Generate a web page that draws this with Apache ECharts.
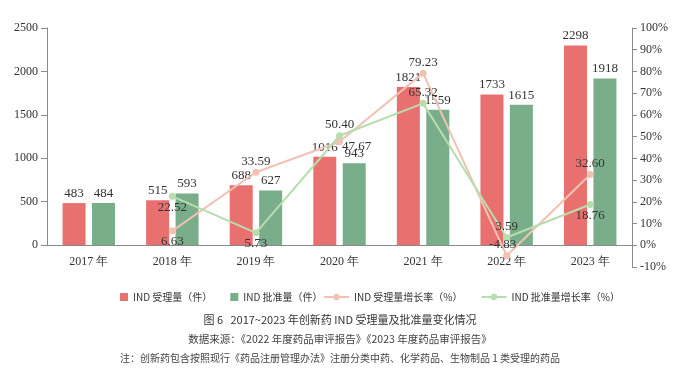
<!DOCTYPE html>
<html><head><meta charset="utf-8">
<script src="https://cdn.jsdelivr.net/npm/echarts@6/dist/echarts.min.js"></script>
<style>html,body{margin:0;padding:0;background:#fff}#c{width:680px;height:384px}</style>
</head><body><div id="c"></div>
<script>
const categories = ['2017 年','2018 年','2019 年','2020 年','2021 年','2022 年','2023 年'];
const accepted = [483, 515, 688, 1016, 1821, 1733, 2298];
const approved = [484, 593, 627, 943, 1559, 1615, 1918];
const acceptedGrowth = [null, 6.63, 33.59, 47.67, 79.23, -4.83, 32.60];
const approvedGrowth = [null, 22.52, 5.73, 50.40, 65.32, 3.59, 18.76];
const leftTicks = [0, 500, 1000, 1500, 2000, 2500];
const rightTicks = [-10, 0, 10, 20, 30, 40, 50, 60, 70, 80, 90, 100];
const accLabelPos = [null, 'bottom', 'top', 'right', 'top', 'top', 'top'];
const appLabelPos = [null, 'bottom', 'bottom', 'top', 'top', 'top', 'bottom'];

const serif = '"Liberation Serif","DejaVu Serif",serif';
const cjk = '"Noto Sans CJK SC","Noto Sans",sans-serif';
const RED = '#e8706f', GREEN = '#7aae8a', PINK = '#efc2b3', LGREEN = '#b8ddac';

function lineData(vals, pos, off) {
  return vals.map((v, i) => v === null ? null : {
    value: v,
    label: { position: pos[i], offset: (off && off[i]) ? off[i] : [0, 0] }
  });
}

const chart = echarts.init(document.getElementById('c'));
chart.setOption({
  animation: false,
  grid: [
    { left: 47, right: 48, top: 28, bottom: 139 },
    { left: 47, right: 48, top: 28, bottom: 117 }
  ],
  xAxis: [
    { type: 'category', gridIndex: 0, data: categories,
      axisLine: { lineStyle: { color: '#8a8a8a', width: 1 } },
      axisTick: { show: false },
      axisLabel: { color: '#333', fontFamily: serif, fontSize: 12, margin: 11 } },
    { type: 'category', gridIndex: 1, data: categories, show: false }
  ],
  yAxis: [
    { type: 'value', gridIndex: 0, min: 0, max: 2500, interval: 500,
      axisLine: { show: true, lineStyle: { color: '#8a8a8a' } },
      axisTick: { show: true, length: 6, lineStyle: { color: '#8a8a8a' }, customValues: leftTicks },
      axisLabel: { color: '#333', fontFamily: serif, fontSize: 12, margin: 9, customValues: leftTicks,
        formatter: v => String(v) },
      splitLine: { show: false } },
    { type: 'value', gridIndex: 1, position: 'right', min: -10, max: 100, interval: 10,
      axisLine: { show: true, lineStyle: { color: '#8a8a8a' } },
      axisTick: { show: true, length: 5, lineStyle: { color: '#8a8a8a' }, customValues: rightTicks },
      axisLabel: { color: '#333', fontFamily: serif, fontSize: 12, margin: 8, formatter: '{value}%', customValues: rightTicks },
      splitLine: { show: false } }
  ],
  legend: [
    { top: 287, left: 115, itemGap: 18, itemWidth: 8, itemHeight: 8,
      textStyle: { color: '#333', fontFamily: cjk, fontSize: 10 },
      data: [
        { name: 'IND 受理量（件）', icon: 'rect', itemStyle: { color: RED } },
        { name: 'IND 批准量（件）', icon: 'rect', itemStyle: { color: GREEN } }
      ] },
    { top: 287, left: 318, itemGap: 18, itemWidth: 25, itemHeight: 8,
      textStyle: { color: '#333', fontFamily: cjk, fontSize: 10 },
      data: [ { name: 'IND 受理量增长率（%）' }, { name: 'IND 批准量增长率（%）' } ] }
  ],
  title: [
    { text: '图 6   2017~2023 年创新药 IND 受理量及批准量变化情况', left: 'center', top: 309,
      textStyle: { color: '#333', fontFamily: cjk, fontSize: 11, fontWeight: 'normal' } },
    { text: '数据来源：《2022 年度药品审评报告》《2023 年度药品审评报告》', left: 'center', top: 329,
      textStyle: { color: '#444', fontFamily: cjk, fontSize: 10.5, fontWeight: 'normal' } },
    { text: '注：创新药包含按照现行《药品注册管理办法》注册分类中药、化学药品、生物制品 1 类受理的药品', left: 115, top: 348,
      textStyle: { color: '#444', fontFamily: cjk, fontSize: 10, fontWeight: 'normal' } }
  ],
  series: [
    { name: 'IND 受理量（件）', type: 'bar', xAxisIndex: 0, yAxisIndex: 0, data: accepted,
      barWidth: 23, barGap: '28%', itemStyle: { color: RED },
      label: { show: true, position: 'top', distance: 3, color: '#333', fontFamily: serif, fontSize: 13 } },
    { name: 'IND 批准量（件）', type: 'bar', xAxisIndex: 0, yAxisIndex: 0, data: approved,
      barWidth: 23, barGap: '28%', itemStyle: { color: GREEN },
      label: { show: true, position: 'top', distance: 3, color: '#333', fontFamily: serif, fontSize: 13 } },
    { name: 'IND 受理量增长率（%）', type: 'line', xAxisIndex: 1, yAxisIndex: 1,
      data: lineData(acceptedGrowth, accLabelPos, [null, null, null, [-2, 5], null, [-4, 0], null]),
      symbol: 'circle', symbolSize: 7,
      lineStyle: { color: PINK, width: 2 }, itemStyle: { color: PINK },
      label: { show: true, distance: 1, color: '#333', fontFamily: serif, fontSize: 13,
        formatter: p => p.value.toFixed(2) } },
    { name: 'IND 批准量增长率（%）', type: 'line', xAxisIndex: 1, yAxisIndex: 1,
      data: lineData(approvedGrowth, appLabelPos),
      symbol: 'circle', symbolSize: 7,
      lineStyle: { color: LGREEN, width: 2 }, itemStyle: { color: LGREEN },
      label: { show: true, distance: 1, color: '#333', fontFamily: serif, fontSize: 13,
        formatter: p => p.value.toFixed(2) } }
  ]
});
</script></body></html>
